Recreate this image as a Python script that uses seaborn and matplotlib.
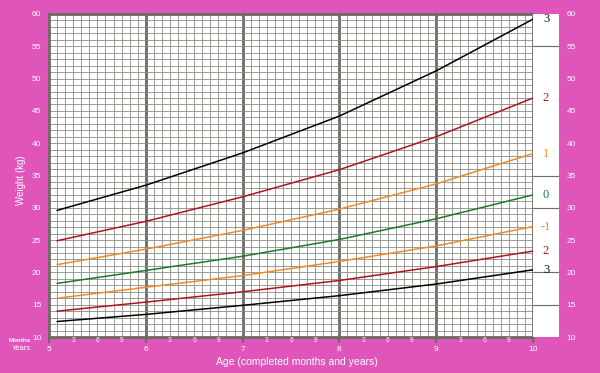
import numpy as np
import pandas as pd
import matplotlib
matplotlib.use("Agg")
import matplotlib.pyplot as plt
import seaborn as sns

# ---- data ----
months = [61, 72, 84, 96, 108, 120]
sd3 = [29.6, 33.5, 38.5, 44.2, 51.2, 59.2]
sd2 = [24.9, 27.9, 31.7, 35.9, 41.0, 47.0]
sd1 = [21.2, 23.6, 26.5, 29.8, 33.7, 38.4]
sd0 = [18.3, 20.3, 22.5, 25.1, 28.3, 32.0]
sdm1 = [16.0, 17.7, 19.5, 21.7, 24.1, 27.1]
sdm2 = [14.0, 15.4, 17.0, 18.75, 20.9, 23.3]
sdm3 = [12.4, 13.5, 14.9, 16.4, 18.2, 20.4]

z_names = ["3", "2", "1", "0", "-1", "-2", "-3"]
z_labels = ["3", "2", "1", "0", "-1", "2", "3"]
series = [sd3, sd2, sd1, sd0, sdm1, sdm2, sdm3]
year_labels = ["5", "6", "7", "8", "9", "10"]
month_labels = ["3", "6", "9"]
y_ticks = list(range(10, 61, 5))

colors = {"3": "#000000", "2": "#b0141c", "1": "#f08a24", "0": "#1f7a2a",
          "-1": "#f08a24", "-2": "#b0141c", "-3": "#000000"}
label_colors = {"3": "#101030", "2": "#b0141c", "1": "#f08a24", "0": "#1a7a4a",
                "-1": "#f08a24", "-2": "#b0141c", "-3": "#101030"}

df = pd.DataFrame([
    {"month": m, "weight": w, "z": z}
    for z, s in zip(z_names, series) for m, w in zip(months, s)
])

PINK = "#E055BA"
GRID = "#6b6b63"
GRID_LIGHT = "#8c8c86"

sns.set_theme(style="white")
plt.rcParams["font.family"] = ["Liberation Sans", "DejaVu Sans"]

W, H = 600, 373
fig = plt.figure(figsize=(W / 100, H / 100), dpi=100, facecolor=PINK)
L, R, T, B = 49, 533, 14, 337
ax = fig.add_axes([L / W, 1 - B / H, (R - L) / W, (B - T) / H])
ax.set_facecolor("white")
ax.set_xlim(60, 120)
ax.set_ylim(10, 60)

# grid
for m in range(61, 120):
    if m % 12 == 0:
        ax.axvline(m, color=GRID, lw=2.0, zorder=1)
    else:
        ax.axvline(m, color=GRID_LIGHT, lw=0.6, zorder=1)
for w in range(11, 60):
    ax.axhline(w, color=GRID_LIGHT, lw=0.6, zorder=1)

sns.lineplot(data=df, x="month", y="weight", hue="z", palette=colors,
             hue_order=z_names, legend=False, ax=ax, lw=1.1, zorder=3)

for sp in ax.spines.values():
    sp.set_color(GRID)
    sp.set_linewidth(2)

ax.set_xticks([60 + 12 * i for i in range(6)])
ax.set_xticklabels(year_labels)
ax.tick_params(axis="x", length=4.3, width=1.5, color=GRID, labelcolor="white",
               labelsize=6, pad=2.5, bottom=True)
ax.set_yticks(y_ticks)
ax.set_yticklabels([str(v) for v in y_ticks])
ax.tick_params(axis="y", length=0, labelcolor="white", labelsize=6, pad=5.5, left=True)
ax.set_xlabel("Age (completed months and years)", color="white", fontsize=7.5)
ax.xaxis.set_label_coords((297 - L) / (R - L), -(362 - B) / (B - T))
ax.xaxis.label.set_va("center")
ax.set_ylabel("Weight (kg)", color="white", fontsize=7)
ax.yaxis.set_label_coords(-(L - 21) / (R - L), (B - 180) / (B - T))
ax.yaxis.label.set_va("center")

# month labels
for yi in range(5):
    for k, ml in enumerate(month_labels):
        ax.annotate(ml, xy=(60 + 12 * yi + 3 * (k + 1), 0),
                    xycoords=("data", "axes fraction"), xytext=(0, -4),
                    textcoords="offset pixels", ha="center", va="center",
                    color="white", fontsize=4.8)
fig.text(20 / W, 1 - 340 / H, "Months", color="white", fontsize=4.5,
         ha="center", va="center", fontweight="bold")
fig.text(21 / W, 1 - 349 / H, "Years", color="white", fontsize=5.5,
         ha="center", va="center")

# right label panel
ax2 = fig.add_axes([R / W, 1 - B / H, 26 / W, (B - T) / H])
ax2.set_facecolor("white")
ax2.set_xlim(0, 1)
ax2.set_ylim(10, 60)
for w in [15, 20, 30, 35, 55]:
    ax2.axhline(w, color=GRID, lw=0.8)
for sp in ax2.spines.values():
    sp.set_visible(False)
ax2.set_xticks([])
ax2.yaxis.tick_right()
ax2.set_yticks(y_ticks)
ax2.set_yticklabels([str(v) for v in y_ticks])
ax2.tick_params(axis="y", length=0, labelcolor="white", labelsize=6, pad=5.5,
                right=True, labelright=True, left=False, labelleft=False)
for z, lab, s in zip(z_names, z_labels, series):
    ax2.text(0.5, s[-1], lab, color=label_colors[z], ha="center", va="center",
             fontsize=9, family=["Liberation Serif", "DejaVu Serif"])

fig.savefig("out.png", dpi=100, facecolor=PINK)
